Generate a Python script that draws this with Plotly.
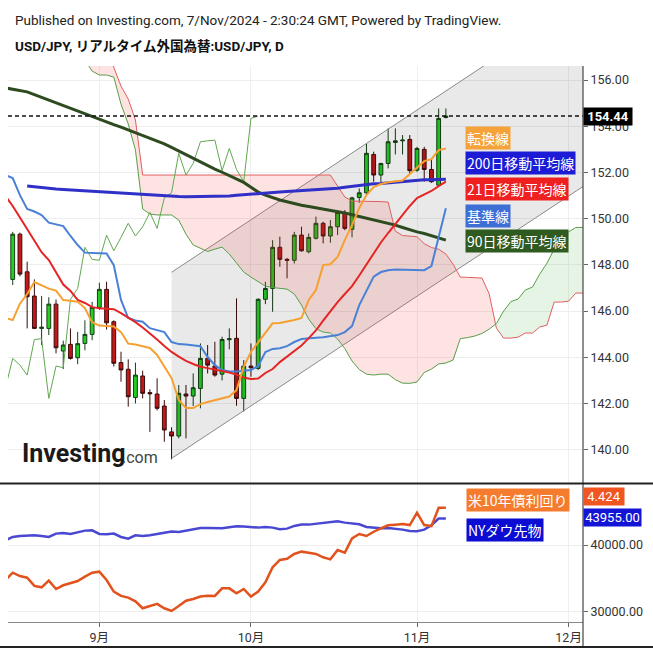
import numpy as np
import pandas as pd
import plotly.graph_objects as go

# ---------------- data ----------------
dates = pd.bdate_range("2024-08-14", "2024-11-07")          # 62 daily bars
cloud_dates = pd.bdate_range("2024-08-14", "2024-12-05")    # incl. 26-bar forward cloud

open_ = [146.85, 147.37, 149.33, 147.70, 146.65, 145.25, 145.25, 146.30, 144.27, 144.56,
         143.98, 144.60, 144.99, 146.16, 146.94, 145.54, 143.77, 143.48, 142.26, 143.19,
         142.47, 142.41, 141.89, 140.77, 140.59, 142.41, 142.32, 142.65, 143.95, 143.62,
         143.27, 144.76, 144.82, 142.22, 143.62, 143.52, 146.51, 146.98, 148.76, 148.24,
         148.20, 149.29, 148.57, 149.15, 149.80, 149.25, 149.65, 150.23, 149.54, 150.92,
         151.12, 152.78, 151.89, 152.39, 153.30, 153.37, 153.43, 152.10, 153.00, 152.13,
         151.45, 154.38]
high = [147.55, 149.43, 149.40, 148.14, 147.37, 146.65, 146.60, 146.50, 144.72, 145.25,
        145.10, 145.60, 146.40, 147.23, 147.27, 145.60, 144.24, 143.91, 143.77, 143.42,
        142.61, 143.09, 142.15, 140.97, 142.80, 142.80, 143.30, 144.60, 144.53, 144.67,
        144.89, 145.25, 146.55, 143.88, 144.60, 146.55, 147.27, 149.07, 149.22, 148.30,
        149.43, 149.65, 149.36, 150.09, 149.87, 149.94, 150.37, 150.37, 150.95, 151.31,
        153.26, 152.90, 152.42, 153.91, 153.91, 153.62, 153.62, 153.11, 153.11, 152.54,
        154.77, 154.77]
low = [146.50, 147.13, 147.50, 145.25, 145.22, 144.53, 144.96, 144.17, 143.49, 143.90,
       143.70, 144.30, 144.74, 146.05, 145.20, 143.60, 142.94, 141.86, 142.00, 142.22,
       140.77, 141.70, 140.34, 139.58, 140.49, 140.49, 141.89, 141.79, 143.30, 143.16,
       143.00, 144.34, 141.90, 141.65, 143.16, 143.45, 146.30, 145.97, 147.92, 147.42,
       148.06, 148.57, 148.50, 149.10, 148.93, 148.96, 149.29, 149.50, 149.19, 150.69,
       151.02, 151.60, 151.53, 152.18, 152.78, 152.78, 151.93, 152.03, 151.60, 151.55,
       151.38, 154.34]
close = [147.35, 149.33, 147.60, 146.62, 145.25, 145.30, 146.30, 144.41, 144.53, 143.95,
         144.59, 144.99, 146.16, 146.94, 145.49, 143.74, 143.45, 142.29, 143.23, 142.44,
         142.42, 141.79, 140.85, 140.59, 142.44, 142.32, 142.68, 143.95, 143.66, 143.23,
         144.77, 144.80, 142.22, 143.62, 143.55, 146.51, 146.98, 148.76, 148.24, 148.20,
         149.29, 148.61, 149.19, 149.80, 149.25, 149.65, 150.27, 149.58, 150.90, 151.12,
         152.83, 151.89, 152.39, 153.33, 153.37, 153.40, 152.08, 153.04, 152.13, 151.60,
         154.34, 154.44]

tenkan = [145.70, 145.61, 146.32, 146.74, 147.26, 147.10, 146.97, 146.89, 146.48, 146.45,
          146.40, 146.13, 145.52, 145.37, 145.35, 145.33, 145.09, 144.59, 144.55, 144.49,
          144.40, 144.10, 143.62, 143.10, 142.15, 141.80, 141.80, 141.97, 142.06, 142.15,
          142.23, 142.30, 142.58, 143.59, 144.23, 144.66, 145.05, 145.47, 145.48, 145.54,
          145.61, 145.70, 146.48, 146.91, 147.99, 148.03, 148.34, 149.07, 149.72, 150.46,
          151.02, 151.37, 151.50, 151.58, 151.61, 151.65, 151.93, 152.19, 152.49, 152.58,
          152.97, 153.04]
kijun = [151.89, 151.76, 151.02, 150.42, 150.31, 150.16, 149.83, 149.77, 149.68, 149.25,
         148.86, 148.53, 148.50, 148.50, 148.49, 147.99, 146.48, 145.70, 145.59, 145.54,
         145.26, 145.16, 145.09, 144.66, 144.57, 144.55, 144.53, 144.48, 144.01, 143.66,
         143.45, 143.38, 143.38, 143.40, 143.45, 143.62, 144.23, 144.36, 144.39, 144.48,
         144.66, 144.79, 144.83, 144.85, 144.87, 144.90, 144.96, 145.09, 145.35, 146.26,
         146.91, 147.49, 147.69, 147.77, 147.80, 147.80, 147.77, 147.77, 147.77, 147.95,
         149.20, 150.45]
ma21 = [150.98, 150.55, 150.05, 149.55, 149.03, 148.55, 148.21, 147.69, 147.15, 146.87,
        146.48, 146.35, 146.17, 146.12, 146.11, 146.08, 145.91, 145.72, 145.52, 145.29,
        145.05, 144.77, 144.49, 144.23, 144.03, 143.84, 143.71, 143.59, 143.53, 143.47,
        143.40, 143.34, 143.25, 143.12, 143.06, 143.08, 143.32, 143.49, 143.79, 144.03,
        144.27, 144.51, 144.83, 145.16, 145.59, 146.00, 146.39, 146.74, 147.08, 147.54,
        148.01, 148.49, 148.97, 149.38, 149.77, 150.18, 150.55, 150.89, 151.04, 151.20,
        151.41, 151.60]
ma90 = [155.66, 155.61, 155.55, 155.49, 155.37, 155.25, 155.13, 155.01, 154.89, 154.76,
        154.64, 154.52, 154.40, 154.29, 154.18, 154.07, 153.96, 153.84, 153.73, 153.62,
        153.50, 153.38, 153.24, 153.09, 152.93, 152.77, 152.61, 152.46, 152.30, 152.15,
        152.01, 151.87, 151.74, 151.57, 151.36, 151.15, 151.02, 150.91, 150.81, 150.73,
        150.65, 150.58, 150.53, 150.48, 150.42, 150.37, 150.32, 150.25, 150.17, 150.10,
        150.03, 149.96, 149.89, 149.81, 149.72, 149.62, 149.51, 149.43, 149.36, 149.27,
        149.17, 149.07]
ma200 = [None, None, None,
         151.41, 151.37, 151.33, 151.31, 151.28, 151.26, 151.24, 151.22, 151.21, 151.20,
         151.17, 151.14, 151.12, 151.10, 151.08, 151.06, 151.03, 151.02, 151.00, 150.99,
         150.97, 150.96, 150.95, 150.95, 150.95, 150.95, 150.95, 150.96, 150.98, 151.01,
         151.04, 151.07, 151.09, 151.11, 151.14, 151.16, 151.18, 151.20, 151.21, 151.22,
         151.23, 151.25, 151.28, 151.32, 151.36, 151.40, 151.44, 151.48, 151.51, 151.52,
         151.55, 151.58, 151.61, 151.64, 151.67, 151.68, 151.69, 151.71, 151.71]

span_a = [157.60, 157.55, 157.50, 157.45, 157.40, 157.35, 157.30, 157.25, 157.20, 157.15,
          157.08, 156.87, 156.39, 156.22, 156.22, 156.13, 154.96, 154.10, 152.97, 150.42,
          150.20, 150.16, 150.16, 150.16, 149.94, 149.33, 148.86, 148.71, 148.58, 148.68,
          148.77, 148.47, 148.10, 147.69, 147.47, 147.28, 147.08, 147.02, 146.98, 146.95,
          146.74, 146.26, 145.65, 145.24, 145.09, 145.05, 144.79, 144.38, 143.84, 143.47,
          143.27, 143.23, 143.27, 143.27, 143.03, 142.88, 142.87, 142.93, 143.34, 143.49,
          143.71, 143.75, 143.88, 144.81, 144.85, 144.92, 145.03, 145.22, 145.46, 146.00,
          146.41, 146.52, 146.91, 147.04, 147.60, 148.07, 148.68, 149.12, 149.43, 149.62,
          149.62, 149.62]
span_b = [158.20, 158.20, 158.20, 158.20, 158.20, 158.20, 158.20, 158.20, 158.20, 158.20,
          158.20, 158.20, 158.20, 158.20, 158.20, 156.55, 155.74, 155.18, 154.27, 151.89,
          151.89, 151.89, 151.89, 151.89, 151.89, 151.89, 151.89, 151.89, 151.89, 151.89,
          151.89, 151.89, 151.89, 151.89, 151.89, 151.89, 151.89, 151.89, 151.89, 151.89,
          151.89, 151.89, 151.89, 151.89, 151.89, 151.89, 151.41, 150.94, 150.76, 150.76,
          150.74, 150.74, 150.74, 150.72, 149.46, 149.27, 149.25, 149.22, 148.92, 148.75,
          148.68, 148.47, 148.03, 147.47, 147.46, 147.45, 147.43, 146.74, 145.26, 144.83,
          144.83, 144.87, 145.05, 145.05, 145.31, 145.39, 146.39, 146.39, 146.43, 146.78,
          146.78, 146.78]

channel_dates = ["2024-09-16", "2024-12-05"]
channel_low = [139.62, 151.60]
channel_high = [147.68, 159.66]

us10y = [3.861, 3.918, 3.892, 3.879, 3.815, 3.804, 3.856, 3.791, 3.820, 3.835,
         3.853, 3.887, 3.918, 3.926, 3.861, 3.771, 3.737, 3.724, 3.695, 3.641,
         3.659, 3.675, 3.641, 3.620, 3.659, 3.700, 3.713, 3.732, 3.739, 3.737,
         3.796, 3.796, 3.757, 3.791, 3.732, 3.771, 3.843, 3.960, 4.017, 4.027,
         4.064, 4.082, 4.074, 4.064, 4.038, 4.022, 4.095, 4.074, 4.185, 4.219,
         4.204, 4.237, 4.263, 4.287, 4.292, 4.297, 4.289, 4.385, 4.289, 4.281,
         4.424, 4.424]
dow = [40705, 41205, 41355, 41405, 41455, 41355, 41205, 41705, 41805, 41655,
       41955, 42155, 42205, 41655, 41605, 41705, 41205, 40955, 41455, 41355,
       41455, 41655, 41855, 42005, 41955, 42155, 42455, 42555, 42555, 42505,
       42505, 42655, 42805, 42755, 42655, 42605, 42705, 42605, 42355, 42455,
       42855, 43055, 43055, 43205, 43355, 43505, 43555, 43355, 43205, 43105,
       42705, 42555, 42505, 42555, 42455, 42305, 42105, 42055, 42305, 42955,
       43955, 43955]

price_ticks = [140, 142, 144, 146, 148, 150, 152, 154, 156]
dow_ticks = [30000, 40000]
month_ticks = ["2024-09-02", "2024-10-01", "2024-11-01", "2024-12-02"]
month_labels = ["9月", "10月", "11月", "12月"]
last_price = 154.44
last_yield = "4.424"
last_dow = "43955.00"

# ---------------- layout helpers ----------------
WD, HT = 653, 653
ML, MR, MT, MB = 8, 70, 66, 31
PW, PH = WD - ML - MR, HT - MT - MB
def ax(px):
    return (px - ML) / PW
def ay(py):
    return (HT - MB - py) / PH

FONT = "Roboto, 'Noto Sans CJK JP', sans-serif"
JFONT = "'Noto Sans CJK JP', Roboto, sans-serif"

fig = go.Figure()

# parallel channel (grey)
fig.add_trace(go.Scatter(
    x=[channel_dates[0], channel_dates[1], channel_dates[1], channel_dates[0]],
    y=[channel_low[0], channel_low[1], channel_high[1], channel_high[0]],
    fill="toself", fillcolor="rgba(0,0,0,0.085)", line=dict(width=0),
    mode="lines", hoverinfo="skip"))
for yy in (channel_low, channel_high):
    fig.add_trace(go.Scatter(x=channel_dates, y=yy, mode="lines",
                             line=dict(color="#8a8a8a", width=1), hoverinfo="skip"))

# ichimoku cloud fills, split where span A crosses span B
A = np.array(span_a)
B = np.array(span_b)
T = list(cloud_dates)
d = A - B
segs = []
sx, sa, sb = [T[0]], [A[0]], [B[0]]
sign = d[0] > 0
for k in range(1, len(A)):
    s = d[k] > 0
    if s != sign:
        f = d[k - 1] / (d[k - 1] - d[k])
        xc = T[k - 1] + pd.Timedelta(days=float(f))
        yc = A[k - 1] + f * (A[k] - A[k - 1])
        sx.append(xc); sa.append(yc); sb.append(yc)
        segs.append((sign, sx, sa, sb))
        sx, sa, sb = [xc], [yc], [yc]
        sign = s
    sx.append(T[k]); sa.append(A[k]); sb.append(B[k])
segs.append((sign, sx, sa, sb))
for up, xs, ya, yb in segs:
    fig.add_trace(go.Scatter(
        x=xs + xs[::-1], y=list(ya) + list(yb)[::-1], fill="toself", mode="lines",
        fillcolor="rgba(76,175,80,0.14)" if up else "rgba(244,67,54,0.15)",
        line=dict(width=0), hoverinfo="skip"))
fig.add_trace(go.Scatter(x=cloud_dates, y=span_a, mode="lines",
                         line=dict(color="#5a9e48", width=1)))
fig.add_trace(go.Scatter(x=cloud_dates, y=span_b, mode="lines",
                         line=dict(color="#e06060", width=1)))

# lagging span (close shifted back 26 bars)
fig.add_trace(go.Scatter(x=dates[:len(close) - 26], y=close[26:], mode="lines",
                         line=dict(color="#62a852", width=1)))

# moving averages / ichimoku lines
fig.add_trace(go.Scatter(x=dates, y=ma90, mode="lines", line=dict(color="#2d4b1e", width=3)))
fig.add_trace(go.Scatter(x=dates, y=ma200, mode="lines", line=dict(color="#3030c8", width=3)))
fig.add_trace(go.Scatter(x=dates, y=kijun, mode="lines", line=dict(color="#4a80d6", width=2)))
fig.add_trace(go.Scatter(x=dates, y=ma21, mode="lines", line=dict(color="#e52525", width=2)))
fig.add_trace(go.Scatter(x=dates, y=tenkan, mode="lines", line=dict(color="#f5a030", width=2)))

# candles
fig.add_trace(go.Candlestick(
    x=dates, open=open_, high=high, low=low, close=close,
    increasing=dict(fillcolor="#22d022", line=dict(color="#173d17", width=1)),
    decreasing=dict(fillcolor="#c41818", line=dict(color="#3a0c0c", width=1)),
    whiskerwidth=0, hoverinfo="skip"))

# lower panel
fig.add_trace(go.Scatter(x=dates, y=us10y, mode="lines", xaxis="x2", yaxis="y3",
                         line=dict(color="#e2521c", width=2.5)))
fig.add_trace(go.Scatter(x=dates, y=dow, mode="lines", xaxis="x2", yaxis="y2",
                         line=dict(color="#4848d2", width=2.5)))

xr = ["2024-08-14 08:20", "2024-12-03 23:50"]
rb = [dict(bounds=["sat", "mon"])]
tickfont = dict(family=FONT, size=12.5, color="#333333")

fig.update_layout(
    width=WD, height=HT, margin=dict(l=ML, r=MR, t=MT, b=MB),
    paper_bgcolor="white", plot_bgcolor="white", showlegend=False, boxgap=0.25,
    xaxis=dict(type="date", range=xr, rangebreaks=rb, tickvals=month_ticks,
               ticktext=month_labels, showticklabels=False, ticks="",
               showgrid=True, gridcolor="#efefef", zeroline=False,
               anchor="y", rangeslider=dict(visible=False)),
    xaxis2=dict(type="date", range=xr, rangebreaks=rb, matches="x",
                tickvals=month_ticks, ticktext=month_labels, ticks="outside",
                ticklen=4, tickcolor="#666", showgrid=True, gridcolor="#efefef",
                showline=True, linecolor="#888", linewidth=1, zeroline=False,
                tickfont=dict(family=FONT, size=12.5, color="#333"), anchor="y2"),
    yaxis=dict(domain=[ay(482), 1], side="right", range=[138.60, 156.61],
               tickvals=price_ticks, ticktext=[f"{v:.2f}" for v in price_ticks],
               ticks="outside", ticklen=4, tickcolor="#666", showgrid=True,
               gridcolor="#eeeeee", zeroline=False, tickfont=tickfont, anchor="x"),
    yaxis2=dict(domain=[0, ay(485)], side="right", range=[28456, 48994],
                tickvals=dow_ticks, ticktext=[f"{v:.2f}" for v in dow_ticks],
                ticks="outside", ticklen=4, tickcolor="#666", showgrid=True,
                gridcolor="#eeeeee", zeroline=False, tickfont=tickfont, anchor="x2"),
    yaxis3=dict(overlaying="y2", range=[3.534, 4.601], visible=False, anchor="x2"),
)

shapes = [
    dict(type="line", xref="paper", yref="y", x0=0, x1=1, y0=last_price, y1=last_price,
         line=dict(color="#111", width=1.5, dash="4px,3px")),
    dict(type="line", xref="paper", yref="paper", x0=1, x1=1, y0=ay(647), y1=1,
         line=dict(color="#444", width=1.2)),
    dict(type="line", xref="paper", yref="paper", x0=ax(0), x1=ax(653), y0=ay(483.5), y1=ay(483.5),
         line=dict(color="#222", width=2)),
    dict(type="line", xref="paper", yref="paper", x0=ax(0), x1=ax(653), y0=ay(647), y1=ay(647),
         line=dict(color="#222", width=2)),
]
fig.update_layout(shapes=shapes)

ann = []
def label(px, py, text, bg, size=14, fam=JFONT, width=None, anchor="left", bold=False):
    t = f"<b>{text}</b>" if bold else text
    a = dict(xref="paper", yref="paper", x=ax(px), y=ay(py), xanchor=anchor, yanchor="middle",
             text=t, showarrow=False, bgcolor=bg, borderpad=1,
             font=dict(family=fam, size=size, color="white"))
    if width:
        a["width"] = width
    ann.append(a)

ann.append(dict(xref="paper", yref="paper", x=ax(13), y=ay(20), xanchor="left", yanchor="middle",
                text="Published on Investing.com, 7/Nov/2024 - 2:30:24 GMT, Powered by TradingView.",
                showarrow=False, font=dict(family=FONT, size=13.5, color="#222")))
ann.append(dict(xref="paper", yref="paper", x=ax(13), y=ay(46), xanchor="left", yanchor="middle",
                text="<b>USD/JPY, リアルタイム外国為替:USD/JPY, D</b>",
                showarrow=False, font=dict(family=FONT, size=13.5, color="#111")))
ann.append(dict(xref="paper", yref="paper", x=ax(20), y=ay(453), xanchor="left", yanchor="middle",
                text="<b>Investing</b>", showarrow=False,
                font=dict(family="Roboto, sans-serif", size=25, color="#1a1a1a")))
ann.append(dict(xref="paper", yref="paper", x=ax(120), y=ay(457), xanchor="left", yanchor="middle",
                text=".com", showarrow=False,
                font=dict(family="Roboto, sans-serif", size=16, color="#444")))

label(465, 138.3, "転換線", "#f5a23a")
label(465, 163.3, "200日移動平均線", "#1c1cd6")
label(465, 189.0, "21日移動平均線", "#ee2020")
label(465, 215.7, "基準線", "#3d6fd6")
label(465, 241.2, "90日移動平均線", "#2f5a20")
label(466, 499.7, "米10年債利回り", "#f57c2e")
label(466, 529.7, "NYダウ先物", "#0c0cd2")

label(583, 116, f"{last_price:.2f}", "#000000", size=13, fam=FONT, width=46, bold=True)
label(583, 496.7, last_yield, "#f05522", size=13, fam=FONT, width=38)
label(583, 517.8, last_dow, "#1414d6", size=13, fam=FONT, width=55)

fig.update_layout(annotations=ann)
fig.write_html("out.html", config={"displayModeBar": False},
               post_script="document.body.style.margin='0px';")
